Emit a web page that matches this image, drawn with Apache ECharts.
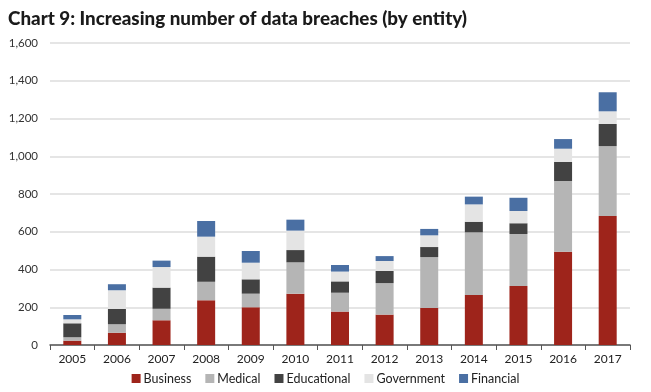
<!DOCTYPE html>
<html><head><meta charset="utf-8">
<script src="https://cdn.jsdelivr.net/npm/echarts@6/dist/echarts.min.js"></script>
<style>html,body{margin:0;padding:0;background:#fff}#c{width:651px;height:392px}</style>
</head><body><div id="c"></div>
<script>
var years = ['2005','2006','2007','2008','2009','2010','2011','2012','2013','2014','2015','2016','2017'];
var business    = [23, 65, 131, 237, 200, 272, 177, 161, 196, 265, 313, 494, 683];
var medical     = [18, 45, 61, 98, 72, 166, 100, 167, 270, 332, 275, 375, 371];
var educational = [74, 81, 112, 133, 76, 65, 60, 64, 53, 56, 57, 101, 117];
var government  = [21, 99, 109, 106, 88, 103, 52, 53, 62, 92, 65, 70, 67];
var financial   = [23, 32, 34, 83, 62, 58, 35, 26, 34, 41, 70, 51, 101];

var names = ['Business','Medical','Educational','Government','Financial'];
var colors = ['#9e241b','#b5b5b5','#424242','#e4e4e4','#4a6fa3'];
var dataSets = [business, medical, educational, government, financial];

var chart = echarts.init(document.getElementById('c'));
chart.setOption({
  animation: false,
  title: {
    text: 'Chart 9: Increasing number of data breaches (by entity)',
    left: 3, top: 4,
    textStyle: {fontFamily: 'Lato', fontWeight: 900, fontSize: 18.8, color: '#1a1a1a'}
  },
  legend: {
    bottom: 2, left: 'center',
    itemWidth: 9, itemHeight: 9, itemGap: 14,
    icon: 'rect',
    textStyle: {fontFamily: 'Lato', fontSize: 12.5, color: '#222', padding: [0,0,0,-2]},
    data: names
  },
  grid: {left: 50, right: 21, top: 43, bottom: 47},
  xAxis: {
    type: 'category', data: years,
    axisLine: {lineStyle: {color: '#555', width: 1.5}},
    axisTick: {show: true, alignWithLabel: false, length: 5, lineStyle: {color: '#555'}},
    axisLabel: {fontFamily: 'Lato', fontSize: 12, color: '#222', margin: 8}
  },
  yAxis: {
    type: 'value', min: 0, max: 1600, interval: 200,
    axisLine: {show: false}, axisTick: {show: false},
    splitLine: {lineStyle: {color: '#dcdcdc', width: 1.5}},
    axisLabel: {fontFamily: 'Lato', fontSize: 11.5, color: '#333', margin: 12,
      formatter: function(v){ return v.toLocaleString('en-US'); }}
  },
  series: names.map(function(n, i){
    return {name: n, type: 'bar', stack: 'all', data: dataSets[i], barWidth: 18,
      itemStyle: {color: colors[i]}};
  })
});
</script></body></html>
